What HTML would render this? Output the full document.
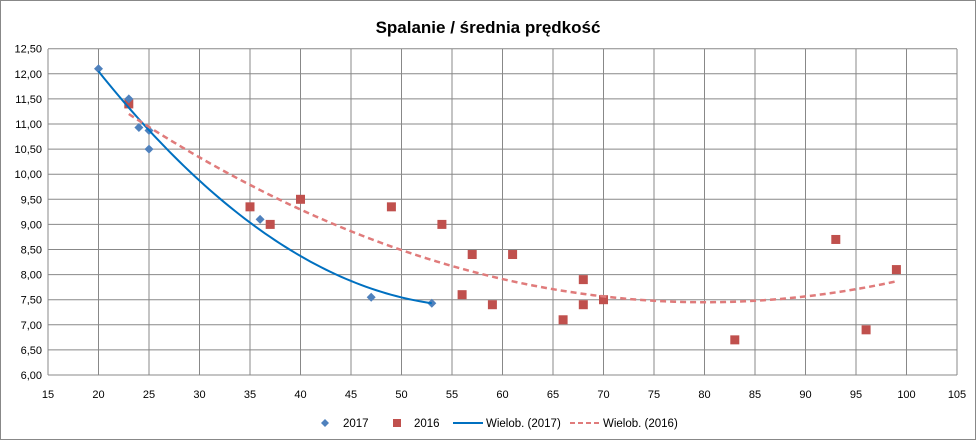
<!DOCTYPE html><html><head><meta charset="utf-8"><style>body{margin:0;background:#fff}svg{display:block;font-family:"Liberation Sans",sans-serif}</style></head><body>
<svg id="s" width="977" height="442" xmlns="http://www.w3.org/2000/svg">
<rect x="0.5" y="0.5" width="975" height="439" fill="#fff" stroke="#888"/>
<text x="488" y="33" text-anchor="middle" font-size="17" font-weight="bold">Spalanie / średnia prędkość</text>
<g id="g"></g>
<g font-size="11.5" fill="#000">
<path d="M325 419 l4 4 -4 4 -4 -4z" fill="#4f81bd"/><text x="343" y="427">2017</text>
<rect x="393" y="419" width="8" height="8" fill="#c0504d"/><text x="414" y="427">2016</text>
<line x1="453" y1="423" x2="483" y2="423" stroke="#0070c0" stroke-width="2"/><text x="486" y="427">Wielob. (2017)</text>
<line x1="570" y1="423" x2="600" y2="423" stroke="#e07b7b" stroke-width="2" stroke-dasharray="5,3"/><text x="603" y="427">Wielob. (2016)</text>
</g>
</svg>
<script>
const X=v=>48+(v-15)*10.1,Y=v=>375-(v-6)*50.2;let h='';
for(let v=15;v<=105;v+=5){h+=`<line x1="${X(v)}" y1="49" x2="${X(v)}" y2="375" stroke="#888"/><text x="${X(v)}" y="398" font-size="11" text-anchor="middle">${v}</text>`}
for(let i=0;i<=13;i++){let v=6+i*0.5;h+=`<line x1="48" y1="${Y(v)}" x2="${X(105)}" y2="${Y(v)}" stroke="#888"/><text x="42" y="${Y(v)+4}" font-size="11" text-anchor="end">${v.toFixed(2).replace('.',',')}</text>`}
let p='';for(let x=20;x<=53;x+=0.5){let t=x-20;p+=(p?'L':'M')+X(x)+' '+Y(12.05-0.2517*t+0.003385*t*t)}
let q='';for(let x=23;x<=99;x+=0.5){q+=(q?'L':'M')+X(x)+' '+Y(7.45+0.001154*(x-80)**2)}
const d=[[20,12.1],[23,11.5],[24,10.93],[25,10.87],[25,10.5],[36,9.1],[47,7.55],[53,7.43]];
const s=[[23,11.4],[35,9.35],[37,9],[40,9.5],[49,9.35],[54,9],[56,7.6],[57,8.4],[59,7.4],[61,8.4],[66,7.1],[68,7.9],[68,7.4],[70,7.5],[83,6.7],[93,8.7],[96,6.9],[99,8.1]];
for(const[a,b]of s)h+=`<rect x="${X(a)-4.5}" y="${Y(b)-4.5}" width="9" height="9" fill="#c0504d"/>`;
for(const[a,b]of d)h+=`<path d="M${X(a)} ${Y(b)-4.5}l4.5 4.5 -4.5 4.5 -4.5 -4.5z" fill="#4f81bd"/>`;
h+=`<path d="${p}" fill="none" stroke="#0070c0" stroke-width="2"/><path d="${q}" fill="none" stroke="#e07b7b" stroke-width="2.5" stroke-dasharray="6,4"/>`;
document.getElementById('g').innerHTML=h;
</script></body></html>
